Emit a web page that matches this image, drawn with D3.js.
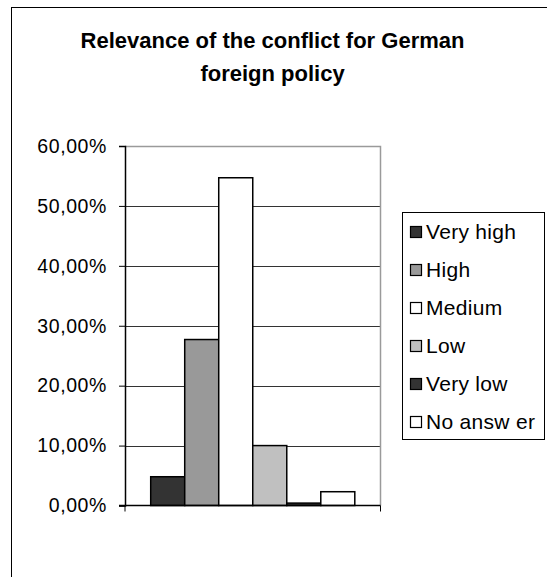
<!DOCTYPE html>
<html>
<head>
<meta charset="utf-8">
<script src="https://cdn.jsdelivr.net/npm/d3@7"></script>
<style>
  body { margin: 0; background: #fff; }
  text { font-family: "Liberation Sans", Arial, sans-serif; fill: #000; }
</style>
</head>
<body>
<div id="chart"></div>
<script>
// data
var categories = ["Very high", "High", "Medium", "Low", "Very low", "No answ er"];
var values = [4.8, 27.7, 54.7, 10.0, 0.4, 2.3];
var colors = ["#333333", "#999999", "#ffffff", "#c0c0c0", "#333333", "#ffffff"];
var yTicks = [0, 10, 20, 30, 40, 50, 60];
var titleLines = ["Relevance of the conflict for German", "foreign policy"];

var W = 547, H = 577;
var plot = { left: 125, right: 380.5, top: 146, bottom: 505.5 };

var svg = d3.select("#chart").append("svg")
    .attr("width", W)
    .attr("height", H);

// outer chart frame (runs off the right/bottom of the picture)
svg.append("rect")
    .attr("x", 11.5).attr("y", 7.5)
    .attr("width", W + 20).attr("height", H + 20)
    .attr("fill", "none").attr("stroke", "#000").attr("stroke-width", 1);

// title
svg.append("g").selectAll("text")
    .data(titleLines)
    .enter().append("text")
    .attr("x", 272.5)
    .attr("y", (d, i) => 48 + i * 33)
    .attr("text-anchor", "middle")
    .attr("font-size", "22px")
    .attr("font-weight", "bold")
    .text(d => d);

var y = d3.scaleLinear().domain([0, 60]).range([plot.bottom, plot.top]);

// one category, six series side by side
var x0 = d3.scaleBand().domain(["all"]).range([plot.left, plot.right]);
var x1 = d3.scaleBand().domain(categories)
    .range([plot.left + 25.7, plot.right - 25.7]);

// gridlines
svg.append("g").selectAll("line")
    .data(yTicks.filter(t => t > 0 && t < 60))
    .enter().append("line")
    .attr("x1", plot.left).attr("x2", plot.right)
    .attr("y1", d => Math.round(y(d)) + 0.5).attr("y2", d => Math.round(y(d)) + 0.5)
    .attr("stroke", "#333").attr("stroke-width", 1);

// plot area border (top and right, gray)
svg.append("path")
    .attr("d", "M" + plot.left + "," + (plot.top + 0.5) + "H" + plot.right + "V" + plot.bottom)
    .attr("fill", "none").attr("stroke", "#9a9a9a").attr("stroke-width", 1.5);

// bars
svg.append("g").selectAll("rect")
    .data(values)
    .enter().append("rect")
    .attr("x", (d, i) => x1(categories[i]))
    .attr("width", x1.bandwidth())
    .attr("y", d => y(d))
    .attr("height", d => y(0) - y(d))
    .attr("fill", (d, i) => colors[i])
    .attr("stroke", "#000")
    .attr("stroke-width", 1.5);

// y axis
var yAxis = d3.axisLeft(y)
    .tickValues(yTicks)
    .tickSize(6)
    .tickPadding(12)
    .tickFormat(d => d3.format(".2f")(d).replace(".", ",") + "%");

var gy = svg.append("g")
    .attr("transform", "translate(" + plot.left + ",0)")
    .call(yAxis);
gy.select(".domain").attr("stroke", "#000").attr("stroke-width", 1.5);
gy.selectAll(".tick line").attr("stroke", "#000").attr("stroke-width", 1);
gy.selectAll(".tick text")
    .attr("font-size", "19.5px")
    .attr("font-family", "Liberation Sans, Arial, sans-serif")
    .attr("letter-spacing", "0.6px");

// x axis (category axis, ticks at the band edges only)
var gx = svg.append("g")
    .attr("transform", "translate(0," + plot.bottom + ")");
gx.append("line")
    .attr("x1", plot.left - 6).attr("x2", plot.right)
    .attr("stroke", "#000").attr("stroke-width", 1.5);
gx.selectAll(".edge")
    .data([x0("all"), x0("all") + x0.bandwidth()])
    .enter().append("line")
    .attr("class", "edge")
    .attr("x1", d => d).attr("x2", d => d)
    .attr("y1", 0).attr("y2", 6)
    .attr("stroke", "#000").attr("stroke-width", 1);

// legend
var legend = svg.append("g");
legend.append("rect")
    .attr("x", 402.5).attr("y", 212.5)
    .attr("width", 142).attr("height", 227)
    .attr("fill", "#fff").attr("stroke", "#000").attr("stroke-width", 1);

var items = legend.selectAll(".item")
    .data(categories)
    .enter().append("g")
    .attr("class", "item")
    .attr("transform", (d, i) => "translate(0," + (232 + i * 38) + ")");
items.append("rect")
    .attr("x", 410.5).attr("y", -5.5)
    .attr("width", 11).attr("height", 11)
    .attr("fill", (d, i) => colors[i])
    .attr("stroke", "#000").attr("stroke-width", 1.2);
items.append("text")
    .attr("x", 426)
    .attr("dy", "0.35em")
    .attr("font-size", "21px")
    .attr("letter-spacing", "0.3px")
    .text(d => d);
</script>
</body>
</html>
